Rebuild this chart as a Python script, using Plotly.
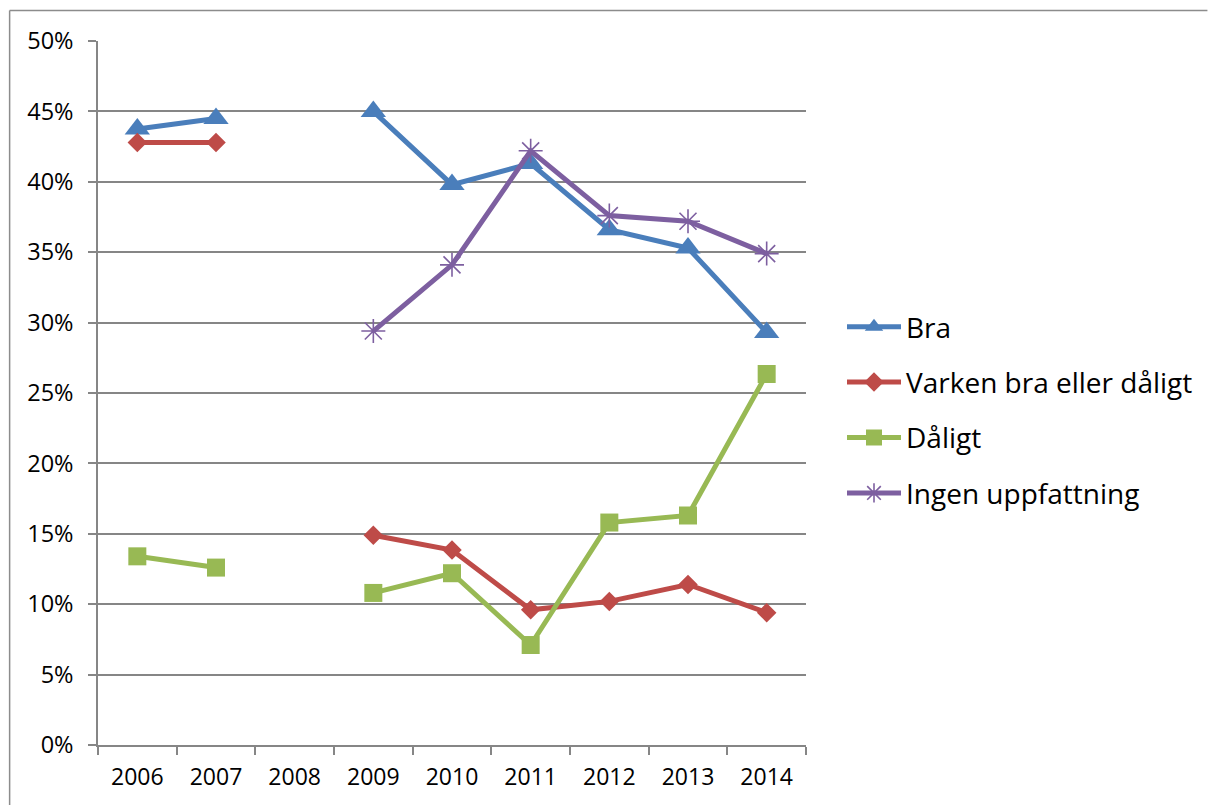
import plotly.graph_objects as go

years = ["2006", "2007", "2008", "2009", "2010", "2011", "2012", "2013", "2014"]
bra = [0.4375, 0.445, None, 0.450, 0.398, 0.413, 0.366, 0.353, 0.293]
varken = [0.428, 0.428, None, 0.149, 0.1385, 0.096, 0.102, 0.114, 0.094]
daligt = [0.134, 0.126, None, 0.108, 0.122, 0.071, 0.158, 0.163, 0.2635]
ingen = [None, None, None, 0.294, 0.341, 0.422, 0.376, 0.372, 0.349]

names = ["Bra", "Varken bra eller dåligt", "Dåligt", "Ingen uppfattning"]
colors = ["#4A7EBB", "#BE4B48", "#98B954", "#7D5FA0"]

W, H = 1209, 805
L, R, T, B = 98, 807, 41, 745

fig = go.Figure()
series = [bra, varken, daligt, ingen]
symbols = ["triangle-up", "diamond", "square", "asterisk-open"]
sizes = [22, 15, 18, 20]
for i, (vals, nm, col, sym, sz) in enumerate(zip(series, names, colors, symbols, sizes)):
    marker = dict(symbol=sym, size=sz, color=col)
    if sym == "asterisk-open":
        marker["line"] = dict(color=col, width=1.6)
    fig.add_trace(go.Scatter(
        x=years, y=vals, name=nm, mode="lines+markers",
        line=dict(color=col, width=5),
        marker=marker, connectgaps=False,
        legendgroup=str(i),
    ))

grid = "#868686"
fig.update_layout(
    width=W, height=H,
    margin=dict(l=L, r=W - R, t=T, b=H - B, pad=0),
    paper_bgcolor="white", plot_bgcolor="white",
    font=dict(family="Open Sans, Noto Sans, sans-serif", size=22, color="#000000"),
    showlegend=True,
    legend=dict(
        x=(842 - L) / (R - L), xanchor="left",
        y=(B - 410) / (B - T), yanchor="middle",
        font=dict(size=28),
        itemwidth=54,
        tracegroupgap=16,
        bgcolor="rgba(0,0,0,0)",
    ),
    xaxis=dict(
        type="category", range=[-0.5, 8.5],
        showgrid=False, showline=True, linecolor=grid, linewidth=1.5,
        ticks="outside", tickson="boundaries", ticklen=8, tickcolor=grid, tickwidth=1.5,
        ticklabelstandoff=11,
        tickfont=dict(size=23),
        fixedrange=True,
    ),
    yaxis=dict(
        range=[0, 0.5], dtick=0.05, tickformat=".0%",
        showgrid=True, gridcolor=grid, gridwidth=1.5,
        showline=True, linecolor=grid, linewidth=1.5,
        ticks="outside", ticklen=8, tickcolor=grid, tickwidth=1.5,
        ticklabelstandoff=10,
        tickfont=dict(size=23.5),
        zeroline=False,
        fixedrange=True,
    ),
)

def px_x(p):
    return (p - L) / (R - L)

def px_y(p):
    return (B - p) / (B - T)

# outer chart border (top and left edges visible)
fig.add_shape(type="line", xref="paper", yref="paper",
              x0=px_x(9.5), x1=px_x(1209), y0=px_y(10.5), y1=px_y(10.5),
              line=dict(color="#8c8c8c", width=1.5))
fig.add_shape(type="line", xref="paper", yref="paper",
              x0=px_x(9.5), x1=px_x(9.5), y0=px_y(10.5), y1=px_y(805),
              line=dict(color="#8c8c8c", width=1.5))

fig.write_html(
    "out.html",
    config={"displayModeBar": False},
    post_script="document.body.style.margin='0';document.body.style.padding='0';document.body.style.overflow='hidden';",
)
